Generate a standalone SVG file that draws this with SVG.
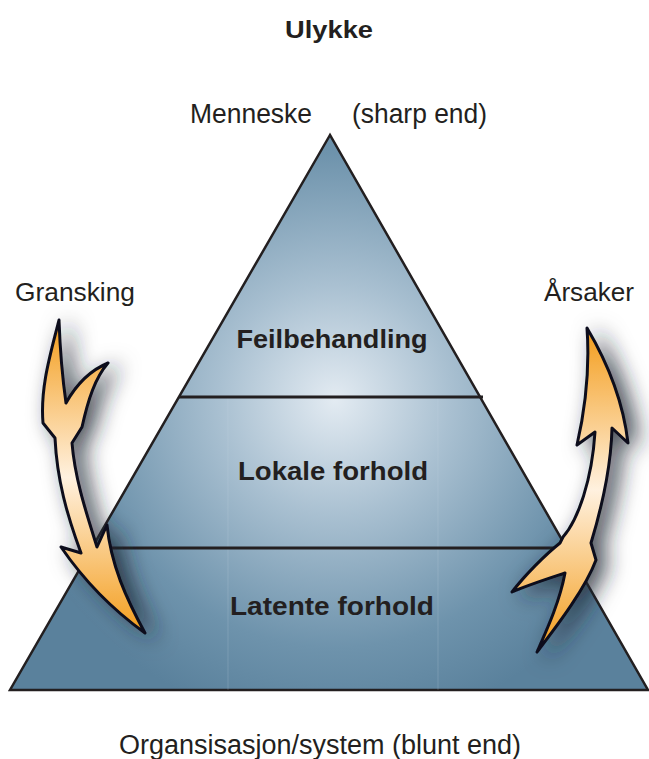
<svg xmlns="http://www.w3.org/2000/svg" width="649" height="759" viewBox="0 0 649 759">
<defs>
<style>
.t{font-family:"Liberation Sans",Arial,sans-serif;fill:#231f20;}
.b{font-weight:bold;}
.sep{stroke:#231f20;stroke-width:3;}
.arrow{stroke:#0d0d1c;stroke-width:3;stroke-linejoin:round;}
</style>
<radialGradient id="tri" cx="335" cy="400" r="330" gradientUnits="userSpaceOnUse">
<stop offset="0" stop-color="#e3ebf2"/>
<stop offset="0.35" stop-color="#a9c0d1"/>
<stop offset="0.75" stop-color="#6e93ac"/>
<stop offset="1" stop-color="#5a819c"/>
</radialGradient>
<linearGradient id="ga" x1="0" y1="320" x2="0" y2="635" gradientUnits="userSpaceOnUse">
<stop offset="0" stop-color="#f39c1a"/>
<stop offset="0.5" stop-color="#fff1df"/>
<stop offset="1" stop-color="#f39c1a"/>
</linearGradient>
<linearGradient id="gb" x1="0" y1="328" x2="0" y2="652" gradientUnits="userSpaceOnUse">
<stop offset="0" stop-color="#f39c1a"/>
<stop offset="0.5" stop-color="#fff1df"/>
<stop offset="1" stop-color="#f39c1a"/>
</linearGradient>
<filter id="sh" x="-80%" y="-30%" width="260%" height="160%">
<feGaussianBlur in="SourceAlpha" stdDeviation="11"/>
<feOffset dx="10" dy="4" result="b"/>
<feFlood flood-color="#1c2430" flood-opacity="0.8"/>
<feComposite operator="in" in2="b"/>
<feMerge><feMergeNode/><feMergeNode in="SourceGraphic"/></feMerge>
</filter>
</defs>
<rect width="649" height="759" fill="#ffffff"/>

<g id="pyramid">
<polygon points="330,135 10,690 648,690" fill="url(#tri)" stroke="#231f20" stroke-width="2.5" stroke-linejoin="miter"/>
<line x1="228" y1="397" x2="228" y2="690" stroke="#c7d6e2" stroke-width="1" opacity="0.2"/>
<line x1="438" y1="397" x2="438" y2="690" stroke="#c7d6e2" stroke-width="1" opacity="0.2"/>
</g>

<g id="connectors">
<line class="sep" x1="179" y1="397" x2="483" y2="397"/>
<line class="sep" x1="92" y1="548" x2="569" y2="548"/>
</g>

<g id="title"><text class="t b" x="329" y="38" font-size="24" text-anchor="middle" textLength="88" lengthAdjust="spacingAndGlyphs">Ulykke</text></g>
<g id="top-labels">
<text class="t" x="190" y="123" font-size="27" textLength="122" lengthAdjust="spacingAndGlyphs">Menneske</text>
<text class="t" x="352" y="123" font-size="27" textLength="135" lengthAdjust="spacingAndGlyphs">(sharp end)</text>
</g>
<g id="level1"><text class="t b" x="332" y="348" font-size="26" text-anchor="middle" textLength="191" lengthAdjust="spacingAndGlyphs">Feilbehandling</text></g>
<g id="level2"><text class="t b" x="333" y="480" font-size="26" text-anchor="middle" textLength="190" lengthAdjust="spacingAndGlyphs">Lokale forhold</text></g>
<g id="level3"><text class="t b" x="332" y="615" font-size="26" text-anchor="middle" textLength="204" lengthAdjust="spacingAndGlyphs">Latente forhold</text></g>
<g id="bottom-label"><text class="t" x="320" y="754" font-size="27" text-anchor="middle" textLength="402" lengthAdjust="spacingAndGlyphs">Organsisasjon/system (blunt end)</text></g>

<g id="granskning">
<text class="t" x="15" y="301" font-size="26" textLength="120" lengthAdjust="spacingAndGlyphs">Gransking</text>
<path class="arrow" fill="url(#ga)" filter="url(#sh)" d="M59,320 C51,352 40,387 43,423 L55,438 C57,480 67,515 81,553 L61,547 C85,582 113,610 145,633 C126,598 111,565 107,525 L97,547 C87,515 75,480 72,443 L82,427 C88,400 95,378 108,363 C91,370 76,385 66,403 C62,375 60,348 59,320 Z"/>
</g>

<g id="arsaker">
<text class="t" x="544" y="301" font-size="26" textLength="90" lengthAdjust="spacingAndGlyphs">Årsaker</text>
<path class="arrow" fill="url(#gb)" filter="url(#sh)" d="M587,328 C606,360 623,400 628,443 L612,428 C611,470 601,510 591,543 L596,560 C586,587 560,622 537,652 C549,625 560,600 565,573 C550,578 528,585 512,592 C525,575 545,555 560,543 L563,537 C578,520 592,480 595,432 L577,445 C585,410 590,370 587,328 Z"/>
</g>
</svg>
